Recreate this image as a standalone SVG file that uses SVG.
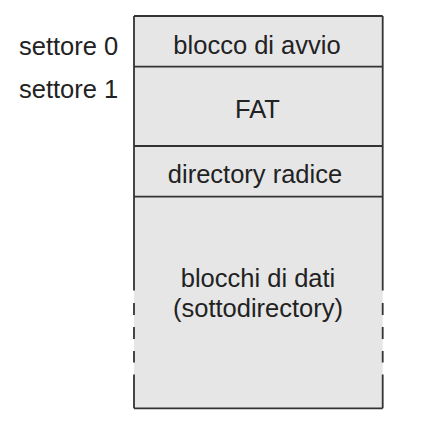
<svg xmlns="http://www.w3.org/2000/svg" width="444" height="435" viewBox="0 0 444 435">
<style>
.t{font-family:"Liberation Sans",Arial,sans-serif;font-size:25.5px;fill:#222}
.c{text-anchor:middle}
.ln{stroke:#333;stroke-width:1.8;fill:none}
</style>
<rect width="444" height="435" fill="#fff"/>
<g id="labels">
<text class="t" x="19" y="55">settore 0</text>
<text class="t" x="19" y="98">settore 1</text>
</g>
<g id="boot">
<rect x="134" y="16" width="248.7" height="50.7" fill="#e6e6e6"/>
<text class="t c" x="257" y="54">blocco di avvio</text>
</g>
<g id="fat">
<rect x="134" y="66.7" width="248.7" height="79.3" fill="#e6e6e6"/>
<text class="t c" x="257.5" y="118">FAT</text>
</g>
<g id="root">
<rect x="134" y="146" width="248.7" height="50.7" fill="#e6e6e6"/>
<text class="t c" x="255" y="183">directory radice</text>
</g>
<g id="data">
<rect x="134" y="196.7" width="248.7" height="211.6" fill="#e6e6e6"/>
<text class="t c" x="258" y="286.5">blocchi di dati</text>
<text class="t c" x="258" y="316.5">(sottodirectory)</text>
</g>
<g id="lines" class="ln">
<path d="M134,16 H382.7 M134,66.7 H382.7 M134,146 H382.7 M134,196.7 H382.7 M134,408.3 H382.7"/>
<path d="M134,16 V290.5 M134,303 V315 M134,327 V339 M134,351 V362.5 M134,374.5 V408.3"/>
<path d="M382.7,16 V290.5 M382.7,303 V315 M382.7,327 V339 M382.7,351 V362.5 M382.7,374.5 V408.3"/>
</g>
</svg>
